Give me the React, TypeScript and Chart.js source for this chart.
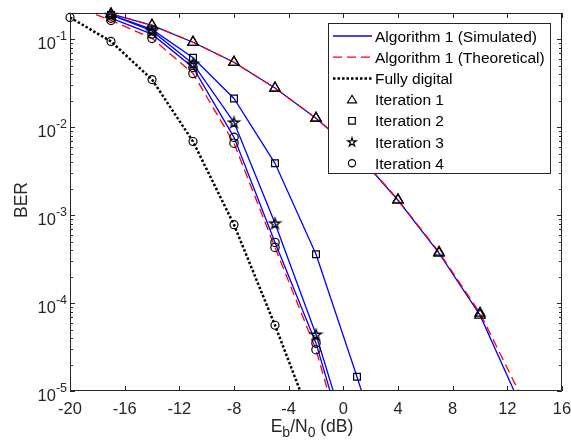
import React, { useEffect, useRef } from 'react';
import { Chart, registerables } from 'chart.js';

Chart.register(...registerables);

const FONT = "'Liberation Sans', Arial, sans-serif";
const AXIS = '#262626';

// ---- tick values ----
const xTicks = [-20, -16, -12, -8, -4, 0, 4, 8, 12, 16];
const yDecades = [-5, -4, -3, -2, -1];

// ---- data (Eb/N0 in dB, BER) ----
const xSim = [-17, -14, -11, -8, -5, -2, 1, 4, 7, 10, 13];
const berIter1Sim = [0.195, 0.145, 0.093, 0.055, 0.028, 0.0127, 0.005, 1.48e-3, 3.7e-4, 7.3e-5, 6.7e-6];
const berIter2Sim = [0.19, 0.13, 0.062, 0.0213, 3.9e-3, 3.6e-4, 1.45e-5, 5e-7];
const berIter3Sim = [0.19, 0.125, 0.053, 0.0114, 8.1e-4, 4.4e-5, 1.3e-6];
const berIter4Sim = [0.175, 0.115, 0.048, 7.7e-3, 4.9e-4, 3.5e-5, 9e-7];

const xTheory = [-20, -17, -14, -11, -8, -5, -2, 1, 4, 7, 10, 13];
const berIter1Theory = [0.27, 0.195, 0.145, 0.093, 0.055, 0.028, 0.0127, 0.0051, 1.5e-3, 3.8e-4, 7.7e-5, 8.8e-6];
const berIter4Theory = [0.25, 0.165, 0.103, 0.041, 6.6e-3, 4.3e-4, 2.95e-5, 7e-7];

const xDigital = [-20, -17, -14, -11, -8, -5, -2];
const berDigital = [0.178, 0.095, 0.035, 0.0069, 7.8e-4, 5.6e-5, 3.4e-6];

const legendLines = ['Algorithm 1 (Simulated)', 'Algorithm 1 (Theoretical)', 'Fully digital'];
const legendMarkers = ['Iteration 1', 'Iteration 2', 'Iteration 3', 'Iteration 4'];

const Y_MIN = 1e-5;
const Y_MAX = 0.2;

function pts(xs: number[], ys: number[]) {
  return ys.map((y, i) => ({ x: xs[i], y }));
}
function visiblePts(xs: number[], ys: number[]) {
  return pts(xs, ys).filter((p) => p.y >= Y_MIN && p.y <= Y_MAX);
}

function starPath(ctx: CanvasRenderingContext2D, cx: number, cy: number, R: number) {
  const r = R * 0.382;
  ctx.beginPath();
  for (let i = 0; i < 10; i++) {
    const rad = i % 2 === 0 ? R : r;
    const a = -Math.PI / 2 + (i * Math.PI) / 5;
    const px = cx + rad * Math.cos(a);
    const py = cy + rad * Math.sin(a);
    if (i === 0) ctx.moveTo(px, py);
    else ctx.lineTo(px, py);
  }
  ctx.closePath();
}

function makeStar(R: number, lw: number) {
  const c = document.createElement('canvas');
  const s = Math.ceil(R * 2 + 4);
  c.width = s;
  c.height = s;
  const g = c.getContext('2d')!;
  g.strokeStyle = '#000';
  g.lineWidth = lw;
  g.lineJoin = 'miter';
  starPath(g, s / 2, s / 2 + 0.5, R);
  g.stroke();
  return c;
}

const AX_FONT = `16.5px ${FONT}`;
const LEG_FONT = `15.5px ${FONT}`;

const matlabPlugin = {
  id: 'matlabAxes',
  afterDraw(chart: any) {
    const { ctx, chartArea: ca, scales } = chart;
    const xs = scales.x;
    const ys = scales.y;
    const L = ca.left, R = ca.right, T = ca.top, B = ca.bottom;
    ctx.save();
    ctx.strokeStyle = AXIS;
    ctx.fillStyle = AXIS;
    ctx.lineWidth = 1;

    // box
    ctx.beginPath();
    ctx.rect(L + 0.5, T + 0.5, R - L - 1, B - T - 1);
    ctx.stroke();

    // x ticks
    ctx.font = AX_FONT;
    ctx.textAlign = 'center';
    ctx.textBaseline = 'alphabetic';
    for (const v of xTicks) {
      const px = Math.round(xs.getPixelForValue(v)) + 0.5;
      ctx.beginPath();
      ctx.moveTo(px, B);
      ctx.lineTo(px, B - 5);
      ctx.moveTo(px, T);
      ctx.lineTo(px, T + 5);
      ctx.stroke();
      ctx.fillText(String(v), xs.getPixelForValue(v), 414);
    }

    // y ticks
    for (const e of yDecades) {
      const py = Math.round(ys.getPixelForValue(Math.pow(10, e))) + 0.5;
      ctx.beginPath();
      ctx.moveTo(L, py);
      ctx.lineTo(L + 5, py);
      ctx.moveTo(R, py);
      ctx.lineTo(R - 5, py);
      ctx.stroke();
      for (let m = 2; m <= 9; m++) {
        const v = m * Math.pow(10, e);
        if (v > Y_MAX) continue;
        const pm = Math.round(ys.getPixelForValue(v)) + 0.5;
        ctx.beginPath();
        ctx.moveTo(L, pm);
        ctx.lineTo(L + 3, pm);
        ctx.moveTo(R, pm);
        ctx.lineTo(R - 3, pm);
        ctx.stroke();
      }
      // label 10^e
      const yv = ys.getPixelForValue(Math.pow(10, e));
      const exp = String(e);
      ctx.font = `12.5px ${FONT}`;
      const we = ctx.measureText(exp).width;
      ctx.font = AX_FONT;
      const wb = ctx.measureText('10').width;
      const right = L - 3;
      ctx.textAlign = 'left';
      ctx.fillText('10', right - we - wb, yv + 9.5);
      ctx.font = `12.5px ${FONT}`;
      ctx.fillText(exp, right - we, yv + 0.5);
    }

    // x title  E_b/N_0 (dB)
    const big = `17.5px ${FONT}`;
    const small = `14px ${FONT}`;
    const parts: [string, string, number][] = [
      ['E', big, 0],
      ['b', small, 5],
      ['/N', big, 0],
      ['0', small, 5],
      [' (dB)', big, 0],
    ];
    let total = 0;
    for (const [t, f] of parts) {
      ctx.font = f;
      total += ctx.measureText(t).width;
    }
    let cx = (L + R) / 2 - 4 - total / 2;
    ctx.textAlign = 'left';
    for (const [t, f, dy] of parts) {
      ctx.font = f;
      ctx.fillText(t, cx, 432 + dy);
      cx += ctx.measureText(t).width;
    }

    // y title
    ctx.save();
    ctx.translate(22.5, (T + B) / 2 - 2);
    ctx.rotate(-Math.PI / 2);
    ctx.font = big;
    ctx.textAlign = 'center';
    ctx.textBaseline = 'middle';
    ctx.fillText('BER', 0, 0);
    ctx.restore();

    // legend
    const lx0 = 328.5, ly0 = 23.5, lw = 222, lh = 150;
    ctx.fillStyle = '#ffffff';
    ctx.fillRect(lx0, ly0, lw, lh);
    ctx.strokeStyle = AXIS;
    ctx.lineWidth = 1;
    ctx.strokeRect(lx0, ly0, lw, lh);
    const rowY = [36, 57.2, 78.4, 99.6, 120.8, 142, 163.2];
    const textX = 375;
    ctx.font = LEG_FONT;
    ctx.textAlign = 'left';
    ctx.textBaseline = 'alphabetic';
    const styles = [
      { c: '#0000ff', w: 1.3, d: [] as number[] },
      { c: '#ff0000', w: 1.3, d: [9, 5] },
      { c: '#000000', w: 2.5, d: [2.5, 2] },
    ];
    legendLines.forEach((label, i) => {
      const s = styles[i];
      ctx.save();
      ctx.strokeStyle = s.c;
      ctx.lineWidth = s.w;
      ctx.setLineDash(s.d);
      ctx.beginPath();
      ctx.moveTo(333, rowY[i]);
      ctx.lineTo(372, rowY[i]);
      ctx.stroke();
      ctx.restore();
      ctx.fillStyle = '#000';
      ctx.fillText(label, textX, rowY[i] + 5.5);
    });
    legendMarkers.forEach((label, i) => {
      const y = rowY[3 + i];
      const mx = 352;
      ctx.save();
      ctx.strokeStyle = '#000';
      ctx.lineWidth = 1.2;
      ctx.beginPath();
      if (i === 0) {
        ctx.moveTo(mx, y - 4.3);
        ctx.lineTo(mx + 4.5, y + 3.2);
        ctx.lineTo(mx - 4.5, y + 3.2);
        ctx.closePath();
      } else if (i === 1) {
        ctx.rect(mx - 3.3, y - 3.3, 6.6, 6.6);
      } else if (i === 2) {
        starPath(ctx, mx, y + 0.3, 4.5);
      } else {
        ctx.arc(mx, y, 3.6, 0, Math.PI * 2);
      }
      ctx.stroke();
      ctx.restore();
      ctx.fillStyle = '#000';
      ctx.fillText(label, textX, y + 5.5);
    });

    ctx.restore();
  },
};

export default function App() {
  const ref = useRef<HTMLCanvasElement>(null);

  useEffect(() => {
    document.body.style.margin = '0';
    const canvas = ref.current;
    if (!canvas) return;
    const star = makeStar(5.5, 1.4);

    const blue = (data: any) => ({
      data,
      borderColor: '#0000ff',
      borderWidth: 1.3,
      pointRadius: 0,
      fill: false,
      tension: 0,
      order: 4,
    });
    const red = (data: any) => ({
      data,
      borderColor: '#ff0000',
      borderWidth: 1.3,
      borderDash: [9, 5],
      pointRadius: 0,
      fill: false,
      tension: 0,
      order: 3,
    });
    const marks = (data: any, style: any, radius: number) => ({
      data,
      showLine: false,
      pointStyle: style,
      pointRadius: radius,
      pointBorderColor: '#000000',
      pointBackgroundColor: 'rgba(0,0,0,0)',
      pointBorderWidth: 1.2,
      clip: false as any,
      order: 1,
    });

    const chart = new Chart(canvas, {
      type: 'line',
      data: {
        datasets: [
          blue(pts(xSim, berIter1Sim)),
          blue(pts(xSim, berIter2Sim)),
          blue(pts(xSim, berIter3Sim)),
          blue(pts(xSim, berIter4Sim)),
          red(pts(xTheory, berIter1Theory)),
          red(pts(xTheory, berIter4Theory)),
          {
            data: pts(xDigital, berDigital),
            borderColor: '#000000',
            borderWidth: 2.5,
            borderDash: [2.5, 2],
            pointRadius: 0,
            fill: false,
            tension: 0,
            order: 2,
          },
          marks(visiblePts(xDigital, berDigital), 'circle', 4),
          marks(visiblePts(xSim, berIter1Sim), 'triangle', 6),
          marks(visiblePts(xTheory, berIter1Theory), 'triangle', 6),
          marks(visiblePts(xSim, berIter2Sim), 'rect', 4.8),
          marks(visiblePts(xSim, berIter3Sim), star, 5),
          marks(visiblePts(xSim, berIter4Sim), 'circle', 4.2),
          marks(visiblePts(xTheory, berIter4Theory), 'circle', 4.2),
        ] as any,
      },
      options: {
        responsive: false,
        devicePixelRatio: 1,
        animation: false,
        events: [],
        layout: { padding: { left: 70, right: 9, top: 13, bottom: 55 } },
        plugins: { legend: { display: false }, tooltip: { enabled: false } },
        scales: {
          x: { type: 'linear', min: -20, max: 16, bounds: 'data', display: false },
          y: { type: 'logarithmic', min: Y_MIN, max: Y_MAX, bounds: 'data', display: false },
        },
      } as any,
      plugins: [matlabPlugin],
    });

    return () => chart.destroy();
  }, []);

  return (
    <div style={{ position: 'absolute', left: 0, top: 0, width: 571, height: 446, background: '#ffffff' }}>
      <canvas ref={ref} width={571} height={446} style={{ display: 'block' }} />
    </div>
  );
}
